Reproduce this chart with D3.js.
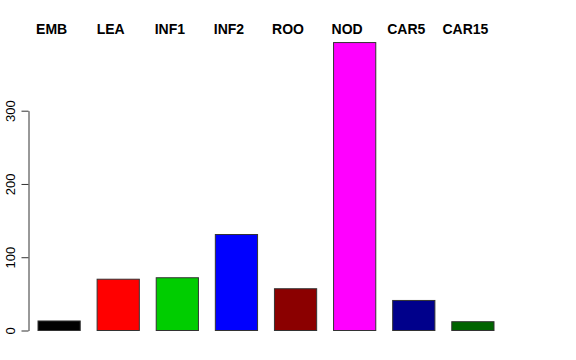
<!DOCTYPE html>
<html><head><meta charset="utf-8">
<script src="https://cdn.jsdelivr.net/npm/d3@7"></script>
<style>body{margin:0;background:#fff}svg{display:block}</style>
</head><body>
<svg id="c" width="576" height="360"></svg>
<script>
const categories = ["EMB","LEA","INF1","INF2","ROO","NOD","CAR5","CAR15"];
const values = [13, 70, 72, 131, 57, 393, 41, 12];
const colors = ["#000000","#ff0000","#00cd00","#0000ff","#8b0000","#ff00ff","#00008b","#006400"];
const yTicks = [0, 100, 200, 300];

const svg = d3.select("#c");
const x = d3.scaleBand().domain(categories).range([38, 494]).paddingInner(2/7).paddingOuter(0).align(0);
const y = d3.scaleLinear().domain([0, 300]).range([330.5, 110.7]);

svg.selectAll("rect.bar").data(categories).enter().append("rect")
  .attr("class","bar")
  .attr("x", d => x(d))
  .attr("width", x.bandwidth())
  .attr("y", (d,i) => y(values[i]))
  .attr("height", (d,i) => y(0) - y(values[i]))
  .attr("fill", (d,i) => colors[i])
  .attr("stroke", "#333")
  .attr("stroke-width", 1);

const ax = svg.append("g").attr("transform","translate(28.5,0)")
  .call(d3.axisLeft(y).tickValues(yTicks).tickSize(7).tickSizeOuter(0).tickFormat(d3.format("d")));
ax.select(".domain").attr("stroke","#333");
ax.selectAll(".tick line").attr("stroke","#333");
ax.selectAll(".tick text")
  .attr("font-family","'Liberation Sans', Arial, sans-serif")
  .attr("font-size", 13)
  .attr("fill","#000")
  .attr("text-anchor","middle")
  .attr("x", 0).attr("y", -14).attr("dy", 0)
  .attr("transform","rotate(-90)");

svg.selectAll("text.lab").data(categories).enter().append("text")
  .attr("class","lab")
  .attr("x", d => x(d) + x.bandwidth()/2 - 7.5)
  .attr("y", 34)
  .attr("text-anchor","middle")
  .attr("font-family","'Liberation Sans', Arial, sans-serif")
  .attr("font-weight","bold")
  .attr("font-size", 14)
  .attr("fill","#000")
  .text(d => d);
</script>
</body></html>
